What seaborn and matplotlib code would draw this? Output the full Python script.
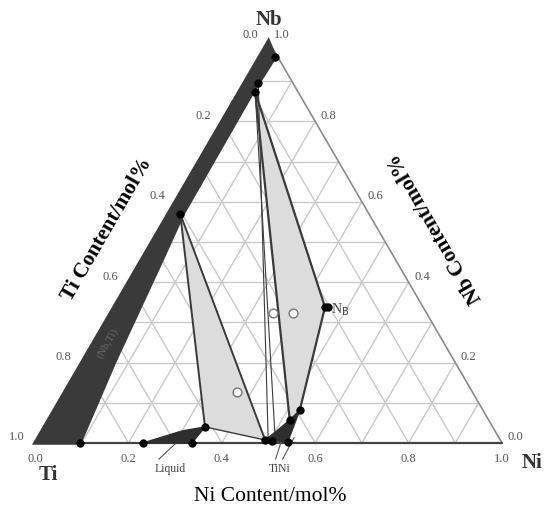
import numpy as np
import pandas as pd
import matplotlib
matplotlib.use("Agg")
import matplotlib.pyplot as plt
import seaborn as sns

# ---------------- data (ternary: Ni fraction, Nb fraction) ----------------
tick_vals = [0.0, 0.2, 0.4, 0.6, 0.8, 1.0]
tick_labels = ["0.0", "0.2", "0.4", "0.6", "0.8", "1.0"]

# bcc (Nb,Ti) band along the Ti-Nb edge
band_ni = [0.0, 0.096, 0.07, 0.045, 0.032, 0.030, 0.034, 0.0]
band_nb = [0.0, 0.0, 0.2, 0.45, 0.57, 0.87, 0.96, 1.0]

# Liquid region
liq_ni = [0.231, 0.336, 0.344, 0.30]
liq_nb = [0.0, 0.0, 0.040, 0.030]

# TiNi region
tini_ni = [0.489, 0.540, 0.526, 0.517, 0.500]
tini_nb = [0.0075, 0.0025, 0.082, 0.057, 0.025]

# light-gray three-phase regions
left_ni = [0.026, 0.344, 0.489]
left_nb = [0.570, 0.040, 0.0075]
right_ni = [0.035, 0.452, 0.526, 0.517]
right_nb = [0.873, 0.338, 0.082, 0.057]

# tie lines (start Ni, start Nb, end Ni, end Nb, width)
tie_n0 = [0.026, 0.026, 0.344, 0.035, 0.452, 0.035, 0.030, 0.035]
tie_b0 = [0.570, 0.570, 0.040, 0.873, 0.338, 0.873, 0.896, 0.873]
tie_n1 = [0.344, 0.489, 0.489, 0.452, 0.526, 0.517, 0.493, 0.508]
tie_b1 = [0.040, 0.0075, 0.0075, 0.338, 0.082, 0.057, 0.0124, 0.0124]
tie_w = [1.4, 1.4, 1.0, 1.6, 1.6, 1.6, 0.8, 0.8]

# solid dots
dot_ni = [0.034, 0.030, 0.035, 0.026, 0.452, 0.459, 0.526, 0.517, 0.489, 0.505, 0.540,
          0.231, 0.336, 0.344, 0.096]
dot_nb = [0.960, 0.896, 0.873, 0.570, 0.338, 0.338, 0.082, 0.057, 0.0075, 0.005, 0.0025,
          0.0, 0.0, 0.040, 0.0]

# open circles (alloy compositions)
open_ni = [0.348, 0.391, 0.369]
open_nb = [0.323, 0.323, 0.127]

S3 = np.sqrt(3) / 2


def xy(n, b):
    n = np.asarray(n, float)
    b = np.asarray(b, float)
    return n + b / 2, b * S3


sns.set_theme(style="white")
plt.rcParams["font.family"] = ["Liberation Serif", "DejaVu Serif"]

fig = plt.figure(figsize=(5.45, 5.15), dpi=100)
ax = fig.add_axes([35 / 545, 72 / 515, 467 / 545, 402 / 515])
ax.set_xlim(0, 1)
ax.set_ylim(0, S3)
ax.axis("off")

grid_c = "#c9c9c9"
for k in np.arange(1, 10) / 10:
    x, y = xy([0, 1 - k], [k, k])
    ax.plot(x, y, color=grid_c, lw=1.0, zorder=1)
    x, y = xy([k, k], [0, 1 - k])
    ax.plot(x, y, color=grid_c, lw=1.0, zorder=1)
    x, y = xy([1 - k, 0], [0, 1 - k])
    ax.plot(x, y, color=grid_c, lw=1.0, zorder=1)

# triangle edges
x, y = xy([0, 1, 0, 0], [0, 0, 1, 0])
ax.plot(x[1:3], y[1:3], color="#8a8a8a", lw=1.2, zorder=2)
ax.plot(x[2:4], y[2:4], color="#8a8a8a", lw=1.2, zorder=2)
ax.plot(x[0:2], y[0:2], color="#444444", lw=1.6, zorder=2)


def fill(nn, bb, fc, z, ec=None, lw=0):
    x, y = xy(nn, bb)
    ax.fill(x, y, facecolor=fc, edgecolor=ec if ec else fc, lw=lw, zorder=z)


fill(band_ni, band_nb, "#3a3a3a", 3, lw=2.5)
fill(left_ni, left_nb, "#dcdcdc", 2.5)
fill(right_ni, right_nb, "#dcdcdc", 2.5)
fill(liq_ni, liq_nb, "#2e2e2e", 4, lw=1)
fill(tini_ni, tini_nb, "#2e2e2e", 4, lw=1)

for n0, b0, n1, b1, w in zip(tie_n0, tie_b0, tie_n1, tie_b1, tie_w):
    x, y = xy([n0, n1], [b0, b1])
    ax.plot(x, y, color="#3a3a3a", lw=w, zorder=3.5)

dx, dy = xy(dot_ni, dot_nb)
sns.scatterplot(x=dx, y=dy, ax=ax, color="black", s=36, edgecolor="black",
                linewidth=0, zorder=6, legend=False)
ox, oy = xy(open_ni, open_nb)
sns.scatterplot(x=ox, y=oy, ax=ax, color="white", s=40, edgecolor="#777777",
                linewidth=1.0, zorder=6, legend=False)

tick_c = "#555555"
fs_t = 9
for v, lab in zip(tick_vals, tick_labels):
    x, y = xy(v, 0)
    ax.text(x, y - 0.022, lab, ha="center", va="top", fontsize=fs_t, color=tick_c)
    x, y = xy(0, 1 - v)
    ax.text(x - 0.022, y + 0.012, lab, ha="right", va="center", fontsize=fs_t, color=tick_c)
    x, y = xy(1 - v, v)
    ax.text(x + 0.012, y + 0.012, lab, ha="left", va="center", fontsize=fs_t, color=tick_c)

# vertex labels
ax.text(0.502, S3 + 0.045, "Nb", ha="center", va="center", fontsize=15,
        color="#333333", fontweight="bold")
ax.text(0.028, -0.068, "Ti", ha="center", va="center", fontsize=15,
        color="#333333", fontweight="bold")
ax.text(1.065, -0.043, "Ni", ha="center", va="center", fontsize=15,
        color="#333333", fontweight="bold")

# axis titles
ax.text(0.154, 0.459, "Ti Content/mol%", rotation=60, ha="center", va="center",
        fontsize=15.5, color="black", fontweight="bold")
ax.text(0.857, 0.463, "Nb Content/mol%", rotation=120, ha="center", va="center",
        fontsize=15.5, color="black", fontweight="bold")
ax.text(0.503, -0.116, "Ni Content/mol%", ha="center", va="center", fontsize=15.5,
        color="black")

# phase labels
ax.text(0.155, 0.215, "(Nb,Ti)", rotation=60, ha="center", va="center", fontsize=8,
        color="#6a6a6a", zorder=7)
ax.text(0.29, -0.055, "Liquid", ha="center", va="center", fontsize=8.5, color="#444444")
ax.plot([0.265, 0.315], [-0.035, 0.012], color="#555555", lw=0.8)
ax.text(0.525, -0.055, "TiNi", ha="center", va="center", fontsize=8.5, color="#444444")
ax.plot([0.515, 0.53], [-0.035, 0.012], color="#555555", lw=0.8)
ax.plot([0.53, 0.555], [-0.035, 0.012], color="#555555", lw=0.8)
x, y = xy(0.452, 0.338)
ax.text(x + 0.012, y - 0.006, r"N$_\mathrm{B}$", ha="left", va="center", fontsize=10,
        color="#444444")

for art in ax.get_children():
    try:
        art.set_clip_on(False)
    except Exception:
        pass

fig.savefig("out.png", dpi=100)
